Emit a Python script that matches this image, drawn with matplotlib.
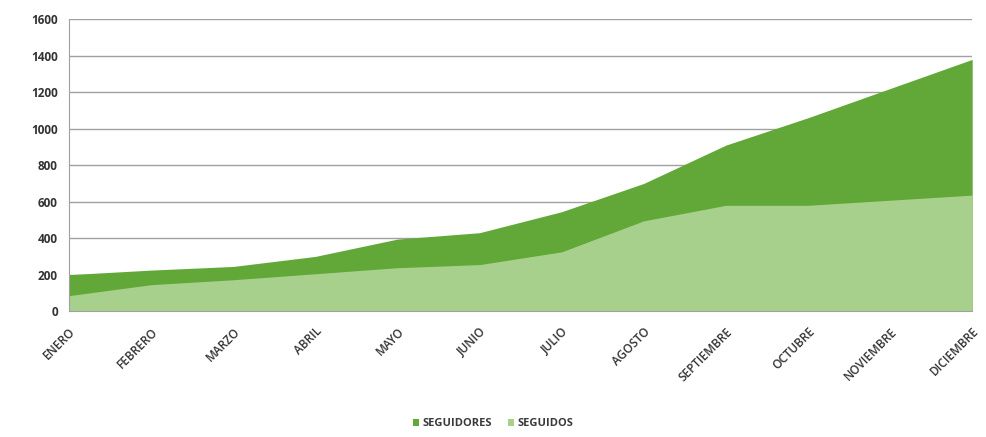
import matplotlib.pyplot as plt
import numpy as np

meses = ['ENERO', 'FEBRERO', 'MARZO', 'ABRIL', 'MAYO', 'JUNIO', 'JULIO',
         'AGOSTO', 'SEPTIEMBRE', 'OCTUBRE', 'NOVIEMBRE', 'DICIEMBRE']
seguidores = [200, 225, 245, 300, 395, 430, 545, 700, 910, 1060, 1220, 1380]
seguidos = [85, 145, 172, 205, 238, 255, 325, 495, 580, 580, 608, 636]

plt.rcParams['font.family'] = ['Open Sans', 'DejaVu Sans']

fig = plt.figure(figsize=(9.86, 4.37), dpi=100)
ax = fig.add_axes([0.07, 0.288, 0.916, 0.668])

x = np.arange(len(meses))
ax.fill_between(x, seguidores, color='#62a838', label='SEGUIDORES', lw=0)
ax.fill_between(x, seguidos, color='#a8d08d', label='SEGUIDOS', lw=0)

ax.set_xlim(0, len(meses) - 1)
ax.set_ylim(0, 1600)
ax.set_yticks(range(0, 1601, 200))
ax.yaxis.grid(True, color='#a0a0a0', lw=1)
ax.set_axisbelow(True)

for s in ['top', 'right']:
    ax.spines[s].set_visible(False)
ax.spines['left'].set_color('#a0a0a0')
ax.spines['bottom'].set_color('#a0a0a0')

ax.set_xticks(x)
ax.set_xticklabels(meses, rotation=45, ha='right', rotation_mode='anchor',
                   fontsize=8.5, color='#333333', fontweight='semibold')
ax.tick_params(axis='x', length=0, pad=10)
ax.tick_params(axis='y', length=0, labelsize=8.5, labelcolor='#333333', pad=8)
for t in ax.get_yticklabels():
    t.set_fontweight('bold')

leg = fig.legend(loc='lower center', bbox_to_anchor=(0.5, -0.005), ncol=2, frameon=False,
                 fontsize=8, handlelength=0.6, handleheight=0.6, handletextpad=0.3,
                 columnspacing=1.4)
for t in leg.get_texts():
    t.set_fontweight('bold')
    t.set_color('#3a3a3a')

fig.savefig('out.png', dpi=100)
